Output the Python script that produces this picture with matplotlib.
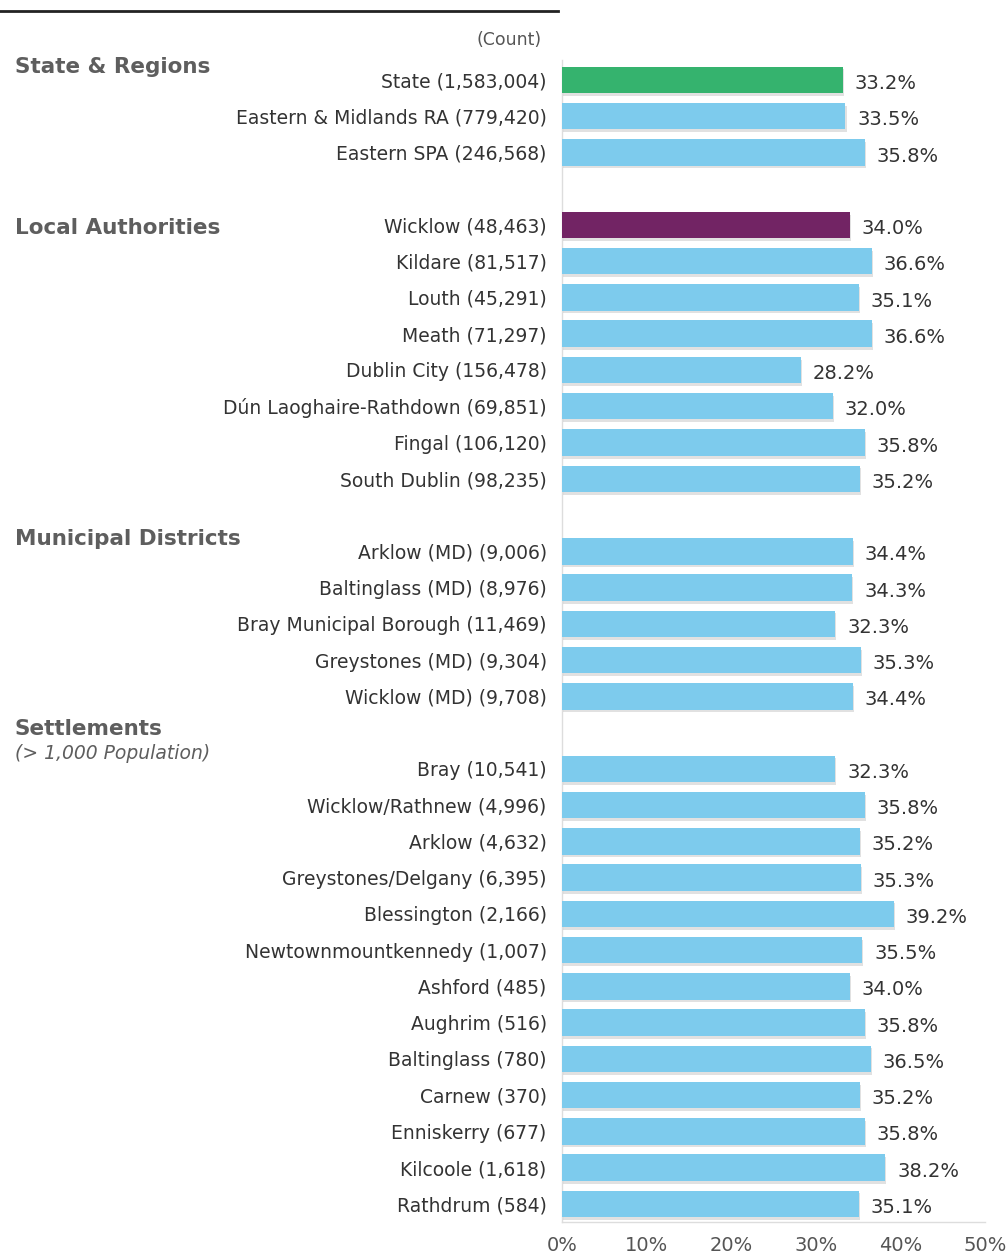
import matplotlib
matplotlib.use('Agg')
import matplotlib.pyplot as plt
import matplotlib.patheffects as pe

# Data
state_labels = ["State (1,583,004)", "Eastern & Midlands RA (779,420)", "Eastern SPA (246,568)"]
state_values = [33.2, 33.5, 35.8]

la_labels = ["Wicklow (48,463)", "Kildare (81,517)", "Louth (45,291)", "Meath (71,297)",
             "Dublin City (156,478)", "Dún Laoghaire-Rathdown (69,851)", "Fingal (106,120)",
             "South Dublin (98,235)"]
la_values = [34.0, 36.6, 35.1, 36.6, 28.2, 32.0, 35.8, 35.2]

md_labels = ["Arklow (MD) (9,006)", "Baltinglass (MD) (8,976)", "Bray Municipal Borough (11,469)",
             "Greystones (MD) (9,304)", "Wicklow (MD) (9,708)"]
md_values = [34.4, 34.3, 32.3, 35.3, 34.4]

settle_labels = ["Bray (10,541)", "Wicklow/Rathnew (4,996)", "Arklow (4,632)",
                 "Greystones/Delgany (6,395)", "Blessington (2,166)", "Newtownmountkennedy (1,007)",
                 "Ashford (485)", "Aughrim (516)", "Baltinglass (780)", "Carnew (370)",
                 "Enniskerry (677)", "Kilcoole (1,618)", "Rathdrum (584)"]
settle_values = [32.3, 35.8, 35.2, 35.3, 39.2, 35.5, 34.0, 35.8, 36.5, 35.2, 35.8, 38.2, 35.1]

groups = [
    ("State & Regions", None, state_labels, state_values),
    ("Local Authorities", None, la_labels, la_values),
    ("Municipal Districts", None, md_labels, md_values),
    ("Settlements", "(> 1,000 Population)", settle_labels, settle_values),
]

x_ticks = [0, 10, 20, 30, 40, 50]

BLUE = '#7dcbed'
GREEN = '#35b36e'
PURPLE = '#722464'
TEXT = '#333333'
HEAD = '#5e5e5e'

plt.rcParams['font.family'] = ['DejaVu Sans']

fig = plt.figure(figsize=(10.08, 12.56), dpi=100)
ax = fig.add_axes([562 / 1008, 1 - 1222 / 1256, 423 / 1008, (1222 - 60) / 1256])

# lay rows out with a blank slot between groups
positions, labels, values, colors = [], [], [], []
header_pos = []
slot = 0
for gi, (title, sub, labs, vals) in enumerate(groups):
    header_pos.append(slot)
    for lab, v in zip(labs, vals):
        positions.append(slot)
        labels.append(lab)
        values.append(v)
        colors.append(BLUE)
        slot += 1
    slot += 1
colors[0] = GREEN
colors[len(state_labels)] = PURPLE

shadow = [pe.withSimplePatchShadow(offset=(0.8, -2), shadow_rgbFace='#aaaaaa', alpha=0.35)]
bars = ax.barh(positions, values, height=0.73, color=colors, edgecolor='none', zorder=3)
for b in bars:
    b.set_path_effects(shadow)

for p, v in zip(positions, values):
    ax.text(v + 1.4, p + 0.1, f"{v:.1f}%", va='center', ha='left', fontsize=14, color=TEXT)

ax.set_yticks(positions)
ax.set_yticklabels(labels, fontsize=13.5, color=TEXT)
ax.tick_params(axis='y', length=0, pad=11)
ax.set_xticks(x_ticks)
ax.set_xticklabels([f"{t}%" for t in x_ticks], fontsize=14, color='#555555')
ax.tick_params(axis='x', length=0, pad=10)
ax.set_xlim(0, 50)
ax.set_ylim(31.5, -0.55)

for s in ['top', 'right']:
    ax.spines[s].set_visible(False)
ax.spines['left'].set_color('#dddddd')
ax.spines['bottom'].set_color('#dddddd')
ax.spines['left'].set_linewidth(1)
ax.spines['bottom'].set_linewidth(1)

# group headers in the left margin
head_offsets = [-0.35, 0.08, -0.33, -1.1]
for (title, sub, labs, vals), hp, off in zip(groups, header_pos, head_offsets):
    yf = ax.transData.transform((0, hp + off))[1]
    yfig = fig.transFigure.inverted().transform((0, yf))[1]
    fig.text(15 / 1008, yfig, title, fontsize=15.5, fontweight='bold', color=HEAD,
             va='center', ha='left')
    if sub:
        fig.text(15 / 1008, yfig - 25 / 1256, sub, fontsize=13.5, style='italic', color=HEAD,
                 va='center', ha='left')

fig.text(542 / 1008, 1 - 40 / 1256, "(Count)", fontsize=12.5, color='#555555', ha='right', va='center')

# rule across the top left
fig.add_artist(plt.Line2D([0, 558 / 1008], [1 - 11 / 1256, 1 - 11 / 1256], color='#222222', lw=2))

fig.savefig('out.png', dpi=100)
